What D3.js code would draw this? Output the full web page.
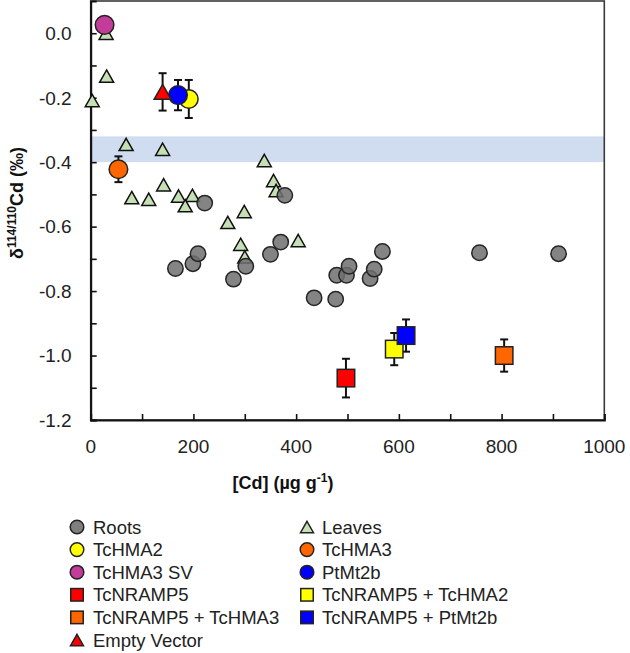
<!DOCTYPE html>
<html>
<head>
<meta charset="utf-8">
<script src="https://cdn.jsdelivr.net/npm/d3@7"></script>
<style>
  html, body { margin: 0; padding: 0; background: #fff; }
  svg { display: block; font-family: "Liberation Sans", Arial, sans-serif; }
</style>
</head>
<body>
<svg id="chart" width="630" height="653"></svg>
<script>
// ---------- DATA ----------
const rootsX = [165, 199, 209, 222, 278, 302, 350, 370, 378, 435, 477, 479, 498, 503, 544, 552, 568, 757, 911];
const rootsY = [-0.730, -0.715, -0.684, -0.527, -0.763, -0.723, -0.686, -0.648, -0.503, -0.821, -0.825, -0.751, -0.751, -0.723, -0.761, -0.732, -0.677, -0.681, -0.684];

const leavesX = [30, 31, 3, 69, 140, 338, 80, 113, 142, 171, 198, 184, 267, 299, 292, 300, 356, 361, 404];
const leavesY = [0.0, -0.133, -0.209, -0.345, -0.360, -0.395, -0.510, -0.515, -0.470, -0.505, -0.503, -0.535, -0.587, -0.553, -0.655, -0.694, -0.457, -0.488, -0.643];

const specialNames = ["TcHMA2", "TcHMA3", "TcHMA3 SV", "PtMt2b", "TcNRAMP5", "TcNRAMP5 + TcHMA2", "TcNRAMP5 + TcHMA3", "TcNRAMP5 + PtMt2b", "Empty Vector"];
const specialX     = [191, 54, 27, 170, 497, 591, 805, 614, 140];
const specialY     = [-0.204, -0.422, 0.026, -0.192, -1.070, -0.980, -1.000, -0.938, -0.182];
const specialErr   = [0.059, 0.040, 0, 0.047, 0.060, 0.050, 0.050, 0.050, 0.058];
const specialShape = ["circle", "circle", "circle", "circle", "square", "square", "square", "square", "triangle"];
const specialColor = ["#ffff00", "#ff6600", "#c43c9a", "#0000ff", "#ff0000", "#ffff00", "#ff6600", "#0000ff", "#ff0000"];

const bandRange = [-0.40, -0.32];

const xTicks = [0, 100, 200, 300, 400, 500, 600, 700, 800, 900, 1000];
const xTickLabels = [0, 200, 400, 600, 800, 1000];
const yTicks = [0.1, 0.0, -0.1, -0.2, -0.3, -0.4, -0.5, -0.6, -0.7, -0.8, -0.9, -1.0, -1.1, -1.2];
const yTickLabels = [0.0, -0.2, -0.4, -0.6, -0.8, -1.0, -1.2];

const legendItems = [
  {name: "Roots", shape: "circle", color: "#7f7f7f"},
  {name: "Leaves", shape: "triangle", color: "#c5e0b4"},
  {name: "TcHMA2", shape: "circle", color: "#ffff00"},
  {name: "TcHMA3", shape: "circle", color: "#ff6600"},
  {name: "TcHMA3 SV", shape: "circle", color: "#c43c9a"},
  {name: "PtMt2b", shape: "circle", color: "#0000ff"},
  {name: "TcNRAMP5", shape: "square", color: "#ff0000"},
  {name: "TcNRAMP5 + TcHMA2", shape: "square", color: "#ffff00"},
  {name: "TcNRAMP5 + TcHMA3", shape: "square", color: "#ff6600"},
  {name: "TcNRAMP5 + PtMt2b", shape: "square", color: "#0000ff"},
  {name: "Empty Vector", shape: "triangle", color: "#ff0000"}
];

// ---------- LAYOUT ----------
const svg = d3.select("#chart");
const L = 90.7, R = 604.3, T = 1, B = 420;
const x = d3.scaleLinear().domain([0, 1000]).range([L, R]);
const y = d3.scaleLinear().domain([-1.2, 0.1]).range([B, T]);
const fmt = v => (v < 0 ? "-" : "") + Math.abs(v).toFixed(1);

function triPath(cx, cy, w, h) {
  return `M${cx},${cy - h / 2}L${cx + w / 2},${cy + h / 2}L${cx - w / 2},${cy + h / 2}Z`;
}
function drawMarker(g, shape, cx, cy, color, size, opts = {}) {
  const stroke = opts.stroke || "#262626";
  const sw = opts.sw || 1.5;
  const fo = opts.fo == null ? 1 : opts.fo;
  if (shape === "circle") {
    g.append("circle").attr("cx", cx).attr("cy", cy).attr("r", size)
      .attr("fill", color).attr("fill-opacity", fo).attr("stroke", stroke).attr("stroke-width", sw);
  } else if (shape === "square") {
    g.append("rect").attr("x", cx - size / 2).attr("y", cy - size / 2).attr("width", size).attr("height", size)
      .attr("fill", color).attr("stroke", stroke).attr("stroke-width", sw);
  } else {
    g.append("path").attr("d", triPath(cx, cy, size, size * 0.88))
      .attr("fill", color).attr("stroke", opts.stroke || "#111").attr("stroke-width", sw);
  }
}

// band
svg.append("rect")
  .attr("x", L).attr("width", R - L)
  .attr("y", y(bandRange[1])).attr("height", y(bandRange[0]) - y(bandRange[1]))
  .attr("fill", "#d0dcf0");

// frame
svg.append("rect").attr("x", L).attr("y", T).attr("width", R - L).attr("height", B - T)
  .attr("fill", "none").attr("stroke", "#3a3a3a").attr("stroke-width", 1.6);

// axes (ticks inward)
const yAxis = d3.axisLeft(y).tickValues(yTicks).tickSize(-6).tickFormat("");
const xAxis = d3.axisBottom(x).tickValues(xTicks).tickSize(-6).tickFormat("");
const gy = svg.append("g").attr("transform", `translate(${L},0)`).call(yAxis);
const gx = svg.append("g").attr("transform", `translate(0,${B})`).call(xAxis);
[gy, gx].forEach(g => {
  g.select(".domain").attr("stroke", "#111").attr("stroke-width", 2);
  g.selectAll(".tick line").attr("stroke", "#111").attr("stroke-width", 1.6);
});
gy.selectAll(".tick").filter(d => d > 0.05).remove();

// tick labels
svg.append("g").selectAll("text").data(yTickLabels).join("text")
  .attr("x", L - 19).attr("y", d => y(d)).attr("dy", "0.36em")
  .attr("text-anchor", "end").attr("font-size", 19).attr("fill", "#222")
  .text(fmt);
svg.append("g").selectAll("text").data(xTickLabels).join("text")
  .attr("x", d => x(d)).attr("y", 453)
  .attr("text-anchor", "middle").attr("font-size", 19).attr("fill", "#222")
  .text(d => d);

// axis titles
const xt = svg.append("text").attr("x", 283).attr("y", 489).attr("text-anchor", "middle")
  .attr("font-size", 18).attr("font-weight", "bold").attr("fill", "#111");
xt.append("tspan").text("[Cd] (µg g");
xt.append("tspan").attr("font-size", 12).attr("dy", -7).text("-1");
xt.append("tspan").attr("dy", 7).text(")");

const yt = svg.append("text").attr("transform", "translate(23,203) rotate(-90)").attr("text-anchor", "middle")
  .attr("font-size", 18).attr("font-weight", "bold").attr("fill", "#111");
yt.append("tspan").text("δ");
yt.append("tspan").attr("font-size", 12).attr("dy", -7).text("114/110");
yt.append("tspan").attr("dy", 7).text("Cd (‰)");

// data: leaves
const gLeaves = svg.append("g");
leavesX.forEach((v, i) => drawMarker(gLeaves, "triangle", x(v), y(leavesY[i]), "#c5e0b4", 14));

// data: roots
const gRoots = svg.append("g");
rootsX.forEach((v, i) => drawMarker(gRoots, "circle", x(v), y(rootsY[i]), "#6e6e6e", 7.7, {fo: 0.85}));

// error bars
const gErr = svg.append("g").attr("stroke", "#111").attr("stroke-width", 2);
specialX.forEach((v, i) => {
  const e = specialErr[i];
  if (!e) return;
  const cx = x(v), y1 = y(specialY[i] + e), y2 = y(specialY[i] - e);
  gErr.append("line").attr("x1", cx).attr("x2", cx).attr("y1", y1).attr("y2", y2);
  gErr.append("line").attr("x1", cx - 4).attr("x2", cx + 4).attr("y1", y1).attr("y2", y1);
  gErr.append("line").attr("x1", cx - 4).attr("x2", cx + 4).attr("y1", y2).attr("y2", y2);
});

// special markers
const gSp = svg.append("g");
specialX.forEach((v, i) => {
  const sh = specialShape[i];
  const size = sh === "circle" ? 9.3 : sh === "square" ? 17.5 : 17;
  drawMarker(gSp, sh, x(v), y(specialY[i]), specialColor[i], size, {stroke: "#222"});
});

// legend
const lg = svg.append("g");
const colMarker = [77, 307], colText = [93, 322];
legendItems.forEach((it, i) => {
  const col = i % 2, row = Math.floor(i / 2);
  const cy = 527 + row * 22.6;
  const size = it.shape === "circle" ? 6.8 : it.shape === "square" ? 12.5 : 13;
  drawMarker(lg, it.shape, colMarker[col], cy, it.color, size, {stroke: "#222"});
  lg.append("text").attr("x", colText[col]).attr("y", cy).attr("dy", "0.36em")
    .attr("font-size", 18.5).attr("fill", "#222").text(it.name);
});
</script>
</body>
</html>
